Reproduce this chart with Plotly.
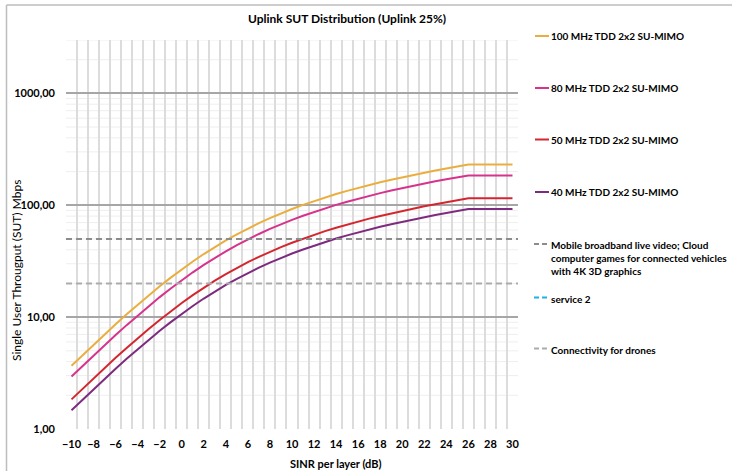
import plotly.graph_objects as go

# ---- data ----
sinr_db = list(range(-10, 31))
series_names = ["100 MHz TDD 2x2 SU-MIMO", "80 MHz TDD 2x2 SU-MIMO",
                "50 MHz TDD 2x2 SU-MIMO", "40 MHz TDD 2x2 SU-MIMO"]
tp_100 = [3.68, 4.57, 5.68, 7.02, 8.65, 10.60, 12.93, 15.67, 18.87, 22.55, 26.74,
          31.44, 36.64, 42.32, 48.46, 55.02, 61.94, 69.20, 76.74, 84.52, 92.51,
          100.66, 108.95, 117.37, 125.87, 134.45, 143.09, 151.77, 160.50, 169.26, 178.04,
          186.85, 195.67, 204.50, 213.34, 222.19, 231.05, 231.05, 231.05, 231.05, 231.05]
tp_80 = [2.94, 3.66, 4.54, 5.62, 6.92, 8.48, 10.34, 12.54, 15.10, 18.04, 21.39,
         25.15, 29.31, 33.86, 38.77, 44.02, 49.55, 55.36, 61.39, 67.62, 74.01,
         80.53, 87.16, 93.90, 100.70, 107.56, 114.47, 121.42, 128.40, 135.41, 142.43,
         149.48, 156.54, 163.60, 170.67, 177.75, 184.84, 184.84, 184.84, 184.84, 184.84]
tp_50 = [1.84, 2.29, 2.84, 3.51, 4.33, 5.30, 6.47, 7.84, 9.44, 11.28, 13.37,
         15.72, 18.32, 21.16, 24.23, 27.51, 30.97, 34.60, 38.37, 42.26, 46.26,
         50.33, 54.48, 58.69, 62.94, 67.23, 71.55, 75.89, 80.25, 84.63, 89.02,
         93.43, 97.84, 102.25, 106.67, 111.10, 115.53, 115.53, 115.53, 115.53, 115.53]
tp_40 = [1.47, 1.83, 2.27, 2.81, 3.46, 4.24, 5.17, 6.27, 7.55, 9.02, 10.70,
         12.58, 14.66, 16.93, 19.38, 22.01, 24.78, 27.68, 30.70, 33.81, 37.00,
         40.26, 43.58, 46.95, 50.35, 53.78, 57.24, 60.71, 64.20, 67.70, 71.22,
         74.74, 78.27, 81.80, 85.34, 88.88, 92.42, 92.42, 92.42, 92.42, 92.42]
service_names = ["Mobile broadband live video; Cloud<br>computer games for connected vehicles<br>with 4K 3D graphics",
                 "service 2", "Connectivity for drones"]
service_values = [50, None, 20]
y_tickvals = [1, 10, 100, 1000]
y_ticktext = ["1,00", "10,00", "100,00", "1000,00"]
x_tickvals = list(range(-10, 31, 2))

series_colors = ["#EBAE3E", "#D6338C", "#D4262F", "#7E2A7E"]
service_colors = ["#8C8C8C", "#1FB0E6", "#ABABAB"]

W, H = 732, 471
L, R, T, B = 66, 518, 40, 429


def px(x):
    return (x - L) / (R - L)


def py(y):
    return (B - y) / (B - T)


FONT = "Lato"
fig = go.Figure()
for name, vals, col in zip(series_names, [tp_100, tp_80, tp_50, tp_40], series_colors):
    fig.add_trace(go.Scatter(x=sinr_db, y=vals, mode="lines", name=name,
                             line=dict(color=col, width=2), showlegend=False))
for name, v, col in zip(service_names, service_values, service_colors):
    if v is None:
        continue
    fig.add_trace(go.Scatter(x=[sinr_db[0] - 0.5, sinr_db[-1] + 0.5], y=[v, v], mode="lines",
                             name=name, line=dict(color=col, width=2, dash="6px,4px"),
                             showlegend=False))

minor_y = []
for dec in [1, 10, 100, 1000]:
    for k in range(2, 10):
        if dec * k <= 3000:
            minor_y.append(dec * k)

fig.update_layout(
    width=W, height=H,
    margin=dict(l=L, r=W - R, t=T, b=H - B),
    paper_bgcolor="white", plot_bgcolor="white",
    font=dict(family=FONT, color="#000000"),
    xaxis=dict(range=[-10.5, 30.5], tickvals=x_tickvals, showgrid=False, zeroline=False,
               tickfont=dict(size=11, family=FONT, weight="bold"), ticks="", ticklen=0,
               ticklabelstandoff=7, showline=False,
               minor=dict(tick0=-10.5, dtick=1, showgrid=True, gridcolor="#DCDCDC", gridwidth=1.5)),
    yaxis=dict(type="log", range=[0, 3.477], tickvals=y_tickvals, ticktext=y_ticktext,
               showgrid=True, gridcolor="#A6A6A6", gridwidth=1.5, zeroline=False,
               tickfont=dict(size=11, family=FONT, weight="bold"), ticks="",
               ticklabelstandoff=10, showline=False),
)

annotations = [
    dict(text="<b>Uplink SUT Distribution (Uplink 25%)</b>", x=px(347), y=py(18), xref="paper",
         yref="paper", showarrow=False, font=dict(size=12, family=FONT), xanchor="center",
         yanchor="middle"),
    dict(text="<b>SINR per layer (dB)</b>", x=px(336), y=py(463), xref="paper", yref="paper",
         showarrow=False, font=dict(size=11, family=FONT), xanchor="center", yanchor="middle"),
    dict(text="Single User Througput (SUT) Mbps", x=px(16), y=py(271), xref="paper", yref="paper",
         showarrow=False, textangle=-90, font=dict(size=12, family=FONT), xanchor="center",
         yanchor="middle"),
]
shapes = [
    dict(type="line", xref="paper", yref="paper", x0=px(6.5), x1=px(740), y0=py(5), y1=py(5),
         line=dict(color="#BDBDBD", width=1.5)),
    dict(type="line", xref="paper", yref="paper", x0=px(6.5), x1=px(6.5), y0=py(5), y1=py(480),
         line=dict(color="#BDBDBD", width=1.5)),
]
# faint minor horizontal grid beneath the vertical grid
for v in minor_y:
    shapes.append(dict(type="line", xref="paper", yref="y", x0=0, x1=1, y0=v, y1=v,
                       layer="below", line=dict(color="#EEEEEE", width=1)))

leg_y = [36, 88, 139.5, 192]
for name, col, yy in zip(series_names, series_colors, leg_y):
    shapes.append(dict(type="line", xref="paper", yref="paper", x0=px(535), x1=px(549),
                       y0=py(yy), y1=py(yy), line=dict(color=col, width=2)))
    annotations.append(dict(text="<b>" + name + "</b>", x=px(549), y=py(yy), xref="paper",
                            yref="paper", showarrow=False, xanchor="left", yanchor="middle",
                            font=dict(size=10, family=FONT)))
svc_y = [244, 297.5, 348.5]
for name, col, yy in zip(service_names, service_colors, svc_y):
    shapes.append(dict(type="line", xref="paper", yref="paper", x0=px(534), x1=px(549),
                       y0=py(yy), y1=py(yy), line=dict(color=col, width=2, dash="5px,3px")))
    annotations.append(dict(text="<b>" + name + "</b>", x=px(549), y=py(yy - 6.8), xref="paper",
                            yref="paper", showarrow=False, xanchor="left", yanchor="top",
                            align="left", font=dict(size=10, family=FONT)))

fig.update_layout(annotations=annotations, shapes=shapes)
fig.write_html("out.html")
